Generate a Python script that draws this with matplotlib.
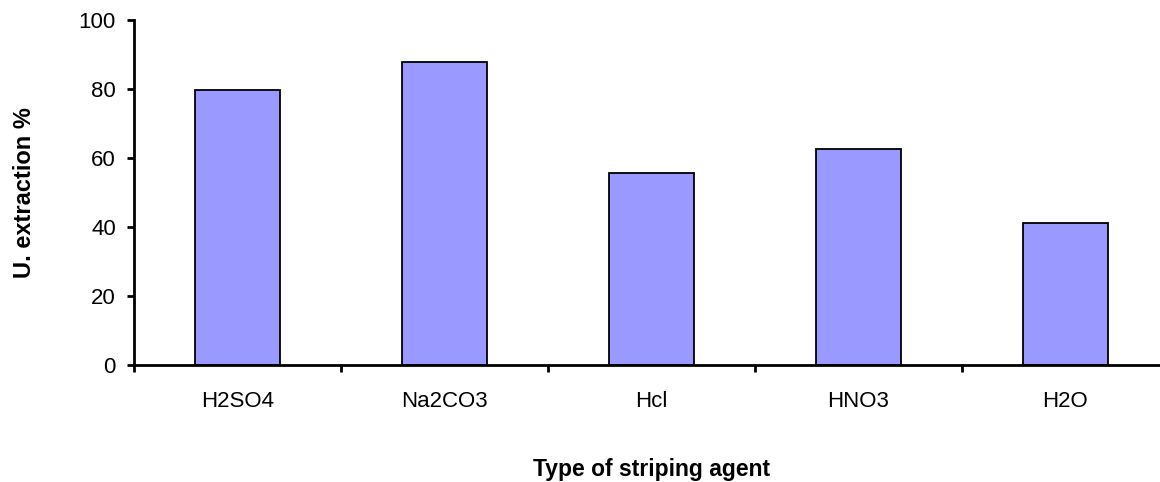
import matplotlib.pyplot as plt
import numpy as np

plt.rcParams['font.family'] = ['Liberation Sans', 'DejaVu Sans']

# Stripping agents and U. extraction (%)
agents = ['H2SO4', 'Na2CO3', 'Hcl', 'HNO3', 'H2O']
extraction = [79.7, 87.9, 55.6, 62.7, 41.2]

fig = plt.figure(figsize=(11.6, 4.82), dpi=100)
ax = fig.add_axes([0.1155, 0.2427, 0.892, 0.7158])

x = np.arange(len(agents))
ax.bar(x, extraction, width=0.41, color='#9999FF', edgecolor='black', linewidth=1.3)

ax.set_xlim(-0.5, len(agents) - 0.5)
ax.set_ylim(0, 100)
ax.set_yticks([0, 20, 40, 60, 80, 100])

# category separators as ticks, names centred between them
ax.set_xticks(np.arange(-0.5, len(agents), 1.0))
ax.set_xticklabels([])
ax.set_xticks(x, minor=True)
ax.set_xticklabels(agents, minor=True)
ax.tick_params(axis='x', which='minor', length=0, pad=19, labelsize=16)
ax.tick_params(axis='x', which='major', direction='out', length=5, width=2)
ax.tick_params(axis='y', direction='out', length=5, width=2, labelsize=16, pad=8)

for side in ['top', 'right']:
    ax.spines[side].set_visible(False)
ax.spines['left'].set_linewidth(2)
ax.spines['bottom'].set_linewidth(2)

ax.set_ylabel('U. extraction %', fontsize=17, fontweight='bold', labelpad=31)
ax.set_xlabel('Type of striping agent', fontsize=16.5, fontweight='bold', labelpad=33)

fig.savefig('out.png', dpi=100)
